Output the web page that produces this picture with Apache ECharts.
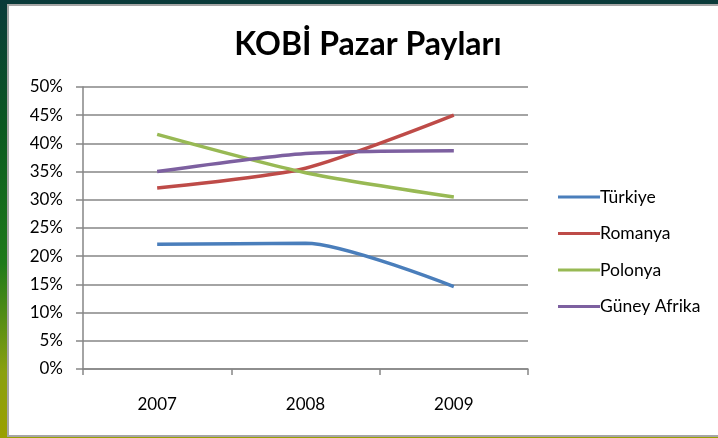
<!DOCTYPE html>
<html>
<head>
<meta charset="utf-8">
<script src="https://cdn.jsdelivr.net/npm/echarts@6/dist/echarts.min.js"></script>
<style>
html,body{margin:0;padding:0;}
body{width:718px;height:438px;overflow:hidden;
background:linear-gradient(180deg,#0a3a3a 0%,#0b5a20 30%,#1e7a1a 60%,#8aa010 85%,#9aa000 100%);}
#frame{position:absolute;left:7px;top:4px;width:720px;height:429px;background:#fff;border:2px solid #a6a6a6;}
#chart{position:absolute;left:0;top:0;width:718px;height:438px;}
</style>
</head>
<body>
<div id="frame"></div>
<div id="chart"></div>
<script>
var categories = ['2007', '2008', '2009'];
var yTicks = [0, 5, 10, 15, 20, 25, 30, 35, 40, 45, 50];
var seriesNames = ['Türkiye', 'Romanya', 'Polonya', 'Güney Afrika'];
var turkiye = [22.1, 22.3, 14.6];
var romanya = [32.1, 35.6, 45.0];
var polonya = [41.6, 34.8, 30.5];
var guneyAfrika = [35.0, 38.2, 38.7];
var colors = ['#4A7EBB', '#BE4B48', '#98B954', '#7D60A0'];
var values = [turkiye, romanya, polonya, guneyAfrika];

var chart = echarts.init(document.getElementById('chart'), null, {renderer: 'canvas'});
var font = 'Lato, "Open Sans", sans-serif';
chart.setOption({
  animation: false,
  backgroundColor: 'transparent',
  title: {
    text: 'KOBİ Pazar Payları',
    left: 363, top: 24, textAlign: 'center',
    textStyle: {fontFamily: font, fontSize: 32, fontWeight: 'bold', color: '#000'}
  },
  legend: {
    orient: 'vertical',
    left: 558, top: 188, padding: 0,
    itemWidth: 42, itemHeight: 3, itemGap: 18.5,
    icon: 'rect',
    data: seriesNames,
    textStyle: {fontFamily: font, fontSize: 17.5, lineHeight: 17, color: '#000', padding: [0, 0, 0, -5]}
  },
  grid: {left: 83, top: 87, width: 445, height: 282, containLabel: false},
  xAxis: {
    type: 'category',
    data: categories,
    boundaryGap: true,
    axisLine: {lineStyle: {color: '#868686', width: 1.5}},
    axisTick: {show: true, length: 6, lineStyle: {color: '#868686', width: 1.5}},
    axisLabel: {fontFamily: font, fontSize: 17, color: '#000', margin: 27}
  },
  yAxis: {
    type: 'value',
    min: yTicks[0], max: yTicks[yTicks.length - 1], interval: 5,
    axisLine: {show: true, lineStyle: {color: '#868686', width: 1.5}},
    axisTick: {show: true, length: 7, lineStyle: {color: '#868686', width: 1.5}},
    splitLine: {show: true, lineStyle: {color: '#868686', width: 1.5}},
    axisLabel: {fontFamily: font, fontSize: 17, color: '#000', margin: 20, formatter: '{value}%'}
  },
  series: seriesNames.map(function (n, i) {
    return {
      name: n, type: 'line', data: values[i], smooth: 0.25,
      symbol: 'none', color: colors[i],
      lineStyle: {width: 3.5, color: colors[i]}
    };
  })
});
</script>
</body>
</html>
